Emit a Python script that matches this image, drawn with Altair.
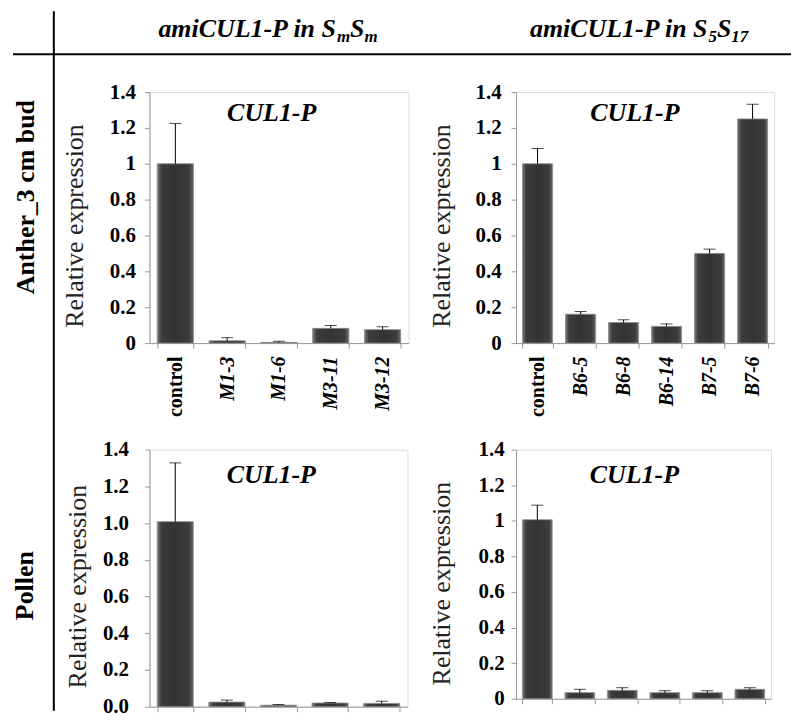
import altair as alt
import pandas as pd

# ---------------- data ----------------
cats_smsm = ["control", "M1-3", "M1-6", "M3-11", "M3-12"]
cats_s5s17 = ["control", "B6-5", "B6-8", "B6-14", "B7-5", "B7-6"]

anther_smsm_mean = [1.00, 0.013, 0.004, 0.082, 0.075]
anther_smsm_upper = [1.225, 0.030, 0.010, 0.098, 0.091]
anther_s5s17_mean = [1.00, 0.161, 0.115, 0.093, 0.50, 1.25]
anther_s5s17_upper = [1.085, 0.176, 0.130, 0.107, 0.524, 1.332]
pollen_smsm_mean = [1.008, 0.025, 0.008, 0.020, 0.018]
pollen_smsm_upper = [1.328, 0.036, 0.012, 0.023, 0.030]
pollen_s5s17_mean = [1.006, 0.034, 0.047, 0.034, 0.034, 0.053]
pollen_s5s17_upper = [1.088, 0.053, 0.062, 0.045, 0.045, 0.062]

y_ticks = [0, 0.2, 0.4, 0.6, 0.8, 1.0, 1.2, 1.4]
gene_label = ["CUL1-P"]
# column headers: main text, subscript, letter, subscript
col_titles = [["amiCUL1-P in S", "m", "S", "m"],
              ["amiCUL1-P in S", "5", "S", "17"]]
row_titles = ["Anther_3 cm bud", "Pollen"]
y_title = "Relative expression"

FONT = "Liberation Serif"
GRAY = "#9a9a9a"

bar_fill = alt.Gradient(
    gradient="linear",
    stops=[
        alt.GradientStop(color="#7a7a7a", offset=0),
        alt.GradientStop(color="#3c3c3c", offset=0.12),
        alt.GradientStop(color="#333333", offset=0.5),
        alt.GradientStop(color="#3c3c3c", offset=0.88),
        alt.GradientStop(color="#6a6a6a", offset=1),
    ],
    x1=0, x2=1, y1=0, y2=0,
)


def one(text):
    return pd.DataFrame({"t": [text]})


def panel(cats, mean, upper, w, h, fmt, label_pad, title_x, title_y,
          gene_x, gene_y, show_labels, extra=()):
    df = pd.DataFrame({"cat": cats, "mean": mean, "upper": upper})
    xaxis = alt.Axis(
        title=None, labels=show_labels, labelAngle=270, tickBand="extent",
        labelFont=FONT, labelFontWeight="bold", labelFontSize=20,
        labelColor="black", labelPadding=8,
        labelFontStyle=alt.condition("datum.value == 'control'",
                                     alt.value("normal"), alt.value("italic")),
        domainColor=GRAY, tickColor=GRAY, tickSize=5, grid=False,
    )
    xenc = alt.X("cat:N", sort=cats, axis=xaxis,
                 scale=alt.Scale(paddingInner=0.3, paddingOuter=0.15))
    yaxis = alt.Axis(
        title=y_title, values=y_ticks, format=fmt, grid=False,
        labelFont=FONT, labelFontWeight="bold", labelFontSize=21,
        labelColor="black", labelPadding=label_pad,
        domainColor=GRAY, tickColor=GRAY, tickSize=5,
        titleFont=FONT, titleFontWeight="normal", titleFontSize=26,
        titleColor="#222222", titleAngle=270, titleAlign="center",
        titleBaseline="middle", titleX=title_x, titleY=title_y,
    )
    yscale = alt.Scale(domain=[0, 1.4], nice=False)
    base = alt.Chart(df)
    bars = base.mark_bar(fill=bar_fill, stroke="#8a8a8a", strokeWidth=0.8).encode(
        x=xenc, y=alt.Y("mean:Q", scale=yscale, axis=yaxis))
    err = base.mark_rule(color="black", strokeWidth=1).encode(
        x=xenc, y=alt.Y("mean:Q", scale=yscale, axis=yaxis), y2="upper:Q")
    cap = base.mark_tick(color="black", size=12, thickness=1).encode(
        x=xenc, y=alt.Y("upper:Q", scale=yscale, axis=yaxis))
    gene = alt.Chart(one(gene_label[0])).mark_text(
        font=FONT, fontSize=26, fontWeight="bold", fontStyle="italic",
        align="center", baseline="alphabetic", color="black").encode(
        text="t:N", x=alt.value(gene_x), y=alt.value(gene_y))
    return alt.layer(bars, err, cap, gene, *extra).properties(width=w, height=h)


def seg(text, x, y, size):
    return alt.Chart(one(text)).mark_text(
        font=FONT, fontSize=size, fontWeight="bold", fontStyle="italic",
        align="left", baseline="alphabetic", color="black").encode(
        text="t:N", x=alt.value(x), y=alt.value(y))


def header(parts, x0, y, big=26, small=17, sub_dy=5):
    main, sub1, letter, sub2 = parts
    # Liberation Serif Bold Italic advance widths (em)
    adv = {"a": .5, "m": .778, "i": .278, "C": .667, "U": .722, "L": .611,
           "1": .5, "-": .333, "P": .611, " ": .25, "n": .556, "S": .556,
           "5": .5, "7": .5}
    w_main = sum(adv[c] for c in main) * big
    w_sub1 = sum(adv[c] for c in sub1) * small
    w_let = sum(adv[c] for c in letter) * big
    x1 = x0 + w_main
    x2 = x1 + w_sub1
    x3 = x2 + w_let
    return [seg(main, x0, y, big), seg(sub1, x1, y + sub_dy, small),
            seg(letter, x2, y, big), seg(sub2, x3, y + sub_dy, small)]


def row_label(text, x, y):
    return alt.Chart(one(text)).mark_text(
        font=FONT, fontSize=26, fontWeight="bold", angle=270,
        align="center", baseline="alphabetic", color="black").encode(
        text="t:N", x=alt.value(x), y=alt.value(y))


hline = alt.Chart(one("h")).mark_rule(color="black", strokeWidth=2).encode(
    x=alt.value(-137), x2=alt.value(644), y=alt.value(-38))
vline = alt.Chart(one("v")).mark_rule(color="black", strokeWidth=2).encode(
    x=alt.value(-96), y=alt.value(-81), y2=alt.value(621))

p1 = panel(cats_smsm, anther_smsm_mean, anther_smsm_upper, 260, 252, ".1~f", 9,
           -75, 134, 122.7, 29, True,
           extra=tuple(header(col_titles[0], 9, -55))
           + (row_label(row_titles[0], -115.5, 105.5), hline, vline))
p2 = panel(cats_s5s17, anther_s5s17_mean, anther_s5s17_upper, 259, 252, ".1~f", 10,
           -74.5, 134, 119.3, 29, True,
           extra=tuple(header(col_titles[1], 14, -55)))
p3 = panel(cats_smsm, pollen_smsm_mean, pollen_smsm_upper, 259, 258, ".1f", 16,
           -72, 137, 122.3, 33.3, False,
           extra=(row_label(row_titles[1], -117.3, 136.5),))
p4 = panel(cats_s5s17, pollen_s5s17_mean, pollen_s5s17_upper, 256, 250, ".1~f", 7,
           -75, 134, 118.8, 33.3, False)

chart = alt.concat(
    p1, p2, p3, p4, columns=2,
    spacing={"row": 107, "column": 108}, bounds="flush",
).properties(
    padding={"left": 3, "top": 0, "right": 0, "bottom": 0},
).configure_view(
    stroke="#505050", strokeWidth=1,
).configure(font=FONT)

chart.save("out.html", embed_options={"renderer": "svg", "actions": False})
